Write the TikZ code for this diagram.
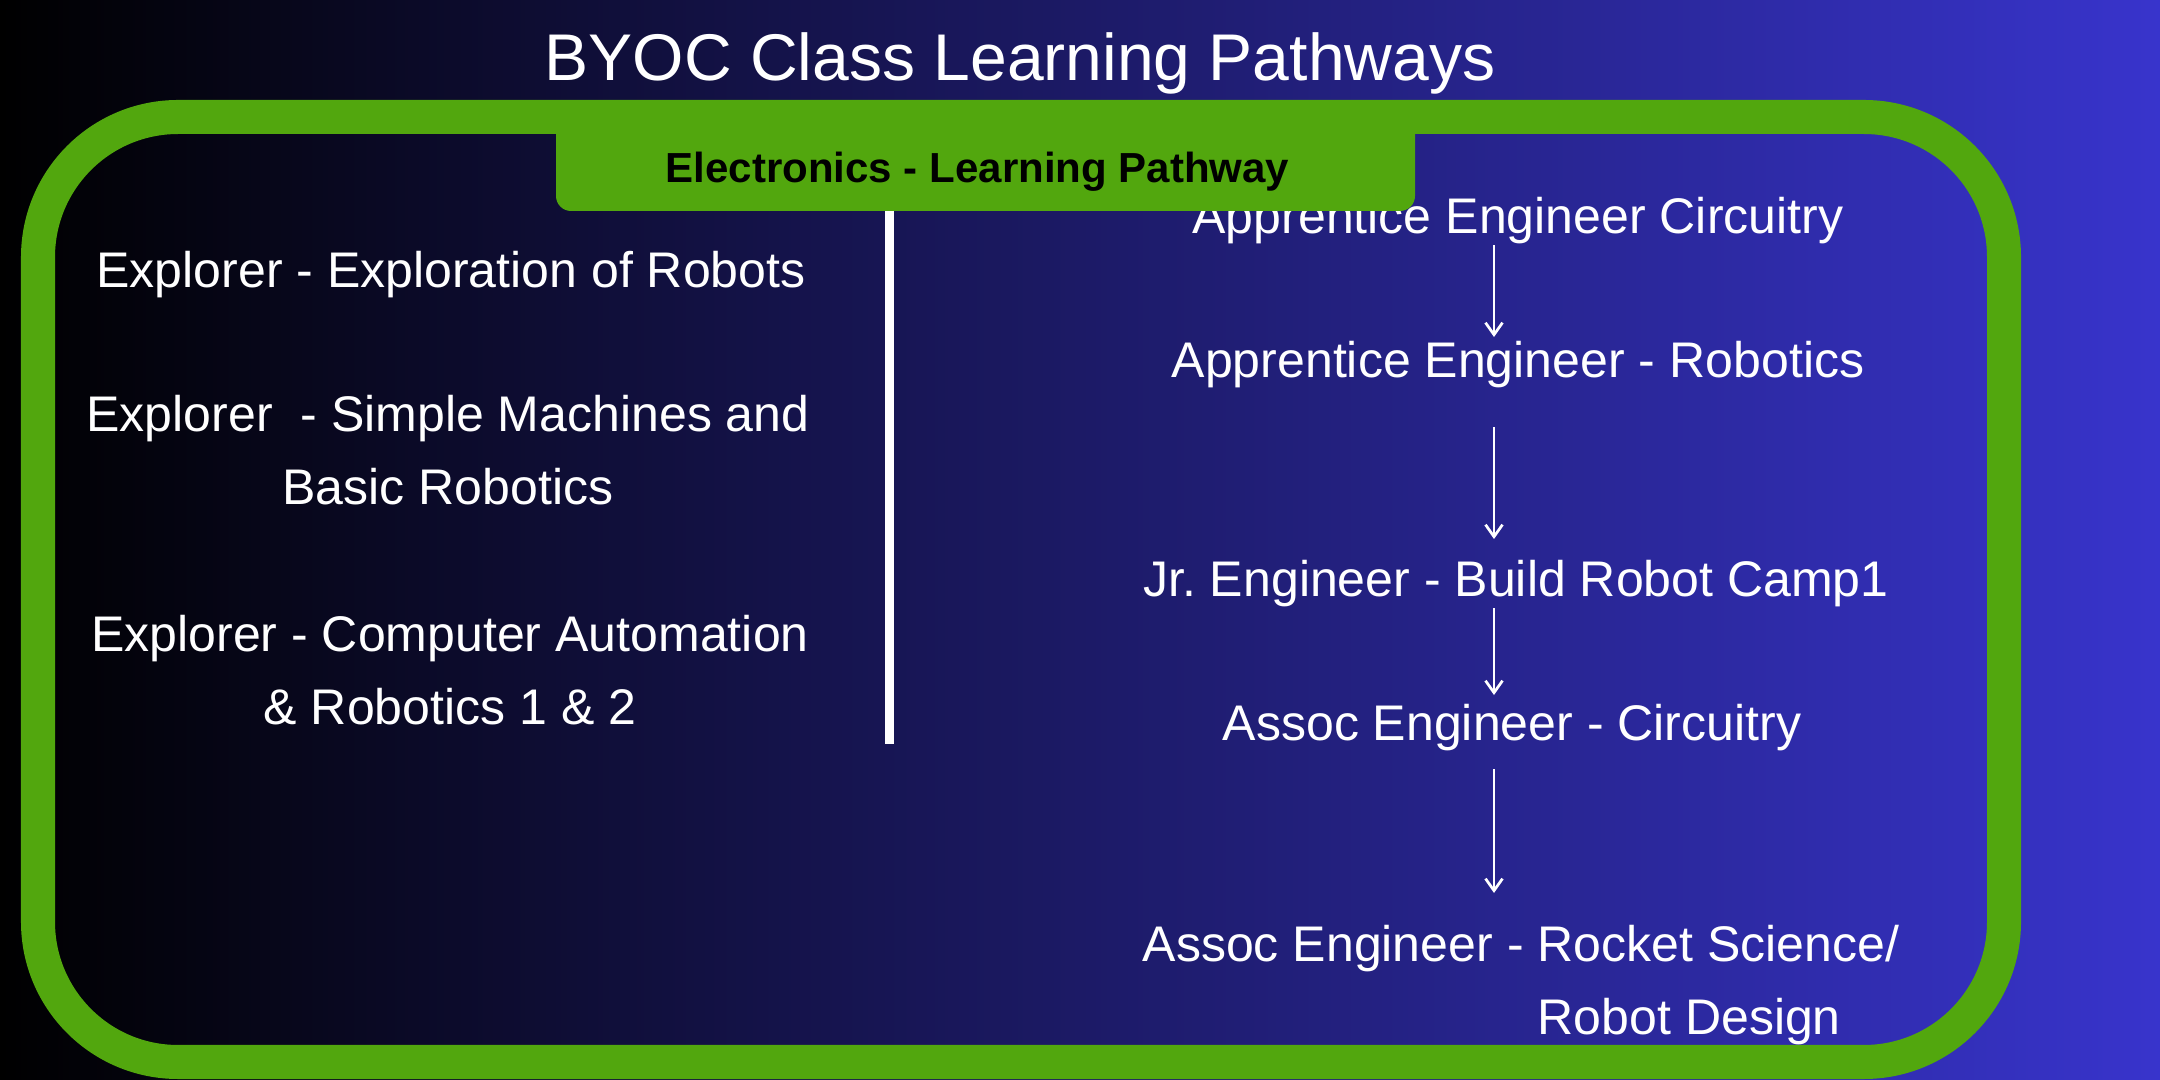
\documentclass[tikz,border=0pt]{standalone}
\usepackage{fontspec}
\setmainfont{Liberation Sans}
\usetikzlibrary{arrows.meta}
\definecolor{framegreen}{RGB}{82,167,14}
\definecolor{bgright}{RGB}{56,52,204}
\begin{document}
\begin{tikzpicture}[x=0.01cm,y=-0.01cm,
	course/.style={text=white,inner sep=0pt,align=center,font=\fontsize{14.23pt}{20.77pt}\selectfont},
	pathstep/.style={draw=white,line width=0.027cm,-{Straight Barb[length=0.12cm,width=0.17cm]}}]
			\useasboundingbox (0,0) rectangle (2160,1080);
			\shade[left color=black,right color=bgright] (0,0) rectangle (2160,1080);
			\draw[framegreen,line width=0.34cm,rounded corners=1.4cm] (38,117) rectangle (2004,1062);

			\node[course,anchor=base,font=\fontsize{18.78pt}{22pt}\selectfont] (title) at (1020,81) {BYOC Class Learning Pathways};

			\node[course,anchor=base] (explore1) at (451,287.5) {Explorer - Exploration of Robots};
			\node[course,anchor=base] (explore2) at (448,504.5) {Explorer~ - Simple Machines and\\Basic Robotics};
			\node[course,anchor=base] (explore3) at (450,725) {Explorer - Computer Automation\\\& Robotics 1 \& 2};

			\node[course,anchor=base] (appcirc) at (1518,234) {Apprentice Engineer Circuitry};
			\node[course,anchor=base] (approb) at (1518,378) {Apprentice Engineer - Robotics};
			\node[course,anchor=base] (jrcamp) at (1516,597) {Jr.\ Engineer - Build Robot Camp1};
			\node[course,anchor=base] (assoccirc) at (1512,741) {Assoc Engineer - Circuitry};
			\node[course,anchor=base west,align=left] (assocrock) at (1142,1035) {Assoc Engineer - Rocket Science/\\\phantom{Assoc Engineer - }Robot Design};

			\fill[framegreen,rounded corners=0.15cm] (556,117) rectangle (1415,211);
			\node[anchor=base,inner sep=0pt,font=\bfseries\fontsize{11.95pt}{14pt}\selectfont] (tab) at (977.5,182.5) {Electronics - Learning Pathway};
			\draw[white,line width=0.09cm] (889,211) -- (889,744);

			\coordinate (axis) at (1494,0);
			\draw[pathstep,shorten >=0.04cm] (appcirc.south -| axis) -- (approb.north -| axis);
			\draw[pathstep,shorten <=0.38cm,shorten >=0.21cm] (approb.south -| axis) -- (jrcamp.north -| axis);
			\draw[pathstep,shorten >=0.09cm] (jrcamp.south -| axis) -- (assoccirc.north -| axis);
			\draw[pathstep,shorten <=0.17cm,shorten >=0.32cm] (assoccirc.south -| axis) -- (assocrock.north -| axis);
		\end{tikzpicture}
\end{document}
